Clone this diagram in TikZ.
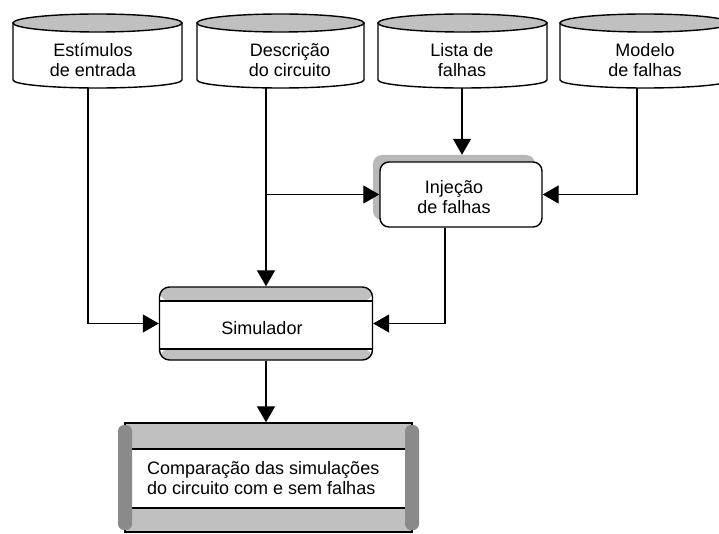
\documentclass[tikz,border=0pt]{standalone}
\usepackage{fontspec}
\setmainfont{Liberation Sans}
\usetikzlibrary{arrows.meta}
\definecolor{bandgray}{HTML}{C0C0C0}
\definecolor{capgray}{HTML}{8A8A8A}
\definecolor{shadowgray}{HTML}{B8B8B8}

% data store drawn as a flat drum: #1 name, #2 left x, #3 right x,
% #4 text x, #5 text, #6 x of the outgoing line
\newcommand\drumstore[6]{%
  \pgfmathsetmacro\drumcx{(#2+#3)/2}%
  \pgfmathsetmacro\drumrx{(#3-#2)/2}%
  \filldraw[outline,fill=white] (#2,23) -- (#2,80)
    arc[start angle=180,end angle=360,x radius=\drumrx pt,y radius=8pt]
    -- (#3,23) -- cycle;
  \filldraw[outline,fill=bandgray] (\drumcx,23) ellipse[x radius=\drumrx pt,y radius=9pt];
  \node[txt] (#1) at (#4,60) {#5};
  \coordinate (#1-out) at (#6,88);
}

\begin{document}
\begin{tikzpicture}[x=1pt,y=-1pt,
  outline/.style={draw=black,line width=1.4pt},
  txt/.style={font=\fontsize{18}{20}\selectfont,align=center,inner sep=0pt},
  flow/.style={line width=1.3pt,-{Triangle[width=18pt,length=16pt]}},
  banded/.style={outline,fill=white,rounded corners=10pt,
    path picture={
      \fill[bandgray] (path picture bounding box.north west)
        rectangle ([yshift=-#1pt]path picture bounding box.north east);
      \fill[bandgray] (path picture bounding box.south west)
        rectangle ([yshift=11pt]path picture bounding box.south east);
      \draw[line width=1.4pt] ([yshift=-#1pt]path picture bounding box.north west)
        -- ([yshift=-#1pt]path picture bounding box.north east);
      \draw[line width=1.4pt] ([yshift=11pt]path picture bounding box.south west)
        -- ([yshift=11pt]path picture bounding box.south east);
    }},
  endcap/.style={fill=capgray,rounded corners=6pt,minimum width=14pt,
    minimum height=105pt,inner sep=0pt}]
\useasboundingbox[fill=white] (0,0) rectangle (719,534);
\clip (0,0) rectangle (719,534);

% input stores
\drumstore{est}{13}{182}{93}{Estímulos\\de entrada}{88}
\drumstore{desc}{197}{364}{290}{Descrição\\do circuito}{266}
\drumstore{lista}{378}{547}{462}{Lista de\\falhas}{462}
\drumstore{modelo}{560}{730}{645}{Modelo\\de falhas}{637}

% fault injection process with its shadow
\node[fill=shadowgray,rounded corners=9pt,minimum width=162pt,minimum height=65pt,
  inner sep=0pt] (injsh) at (454,187.5) {};
\node[outline,fill=white,rounded corners=9pt,minimum width=162pt,minimum height=65pt,
  inner sep=0pt] (inj) at (461,194.5) {};
\node[txt] (injtxt) at (454,197) {Injeção\\de falhas};

% simulator
\node[banded=14,minimum width=213pt,minimum height=73pt,inner sep=0pt]
  (sim) at (266,323.5) {};
\node[txt] (simtxt) at (262,328) {Simulador};

% comparison store
\node[draw=black,line width=1.4pt,fill=white,minimum width=287pt,minimum height=109pt,
  inner sep=0pt,
  path picture={
    \fill[bandgray] (path picture bounding box.north west)
      rectangle ([yshift=-26pt]path picture bounding box.north east);
    \fill[bandgray] (path picture bounding box.south west)
      rectangle ([yshift=24pt]path picture bounding box.south east);
    \draw[line width=1.4pt] ([yshift=-26pt]path picture bounding box.north west)
      -- ([yshift=-26pt]path picture bounding box.north east);
    \draw[line width=1.4pt] ([yshift=24pt]path picture bounding box.south west)
      -- ([yshift=24pt]path picture bounding box.south east);
  }] (cmp) at (268.5,477.5) {};
\node[endcap] (capl) at (125,477.5) {};
\node[endcap] (capr) at (412,477.5) {};
\node[txt,align=left,anchor=west] (cmptxt) at (147,478)
  {Comparação das simulações\\do circuito com e sem falhas};

% connectors
\draw[flow] (est-out) |- (sim.west);
\draw[flow] (desc-out) -- (desc-out |- sim.north);
\draw[flow] (desc-out |- inj.west) -- (inj.west);
\draw[flow] (lista-out) -- (lista-out |- injsh.north);
\draw[flow] (modelo-out) |- (inj.east);
\draw[flow] ([xshift=-16pt]inj.south) |- (sim.east);
\draw[flow] (sim.south) -- (sim.south |- cmp.north);
\end{tikzpicture}
\end{document}
